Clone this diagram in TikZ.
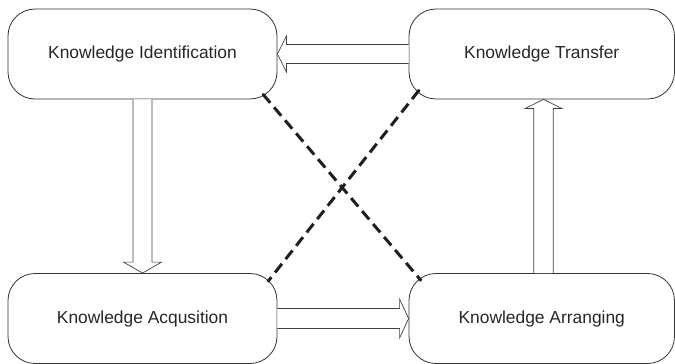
\documentclass[tikz,border=0pt]{standalone}
\usepackage{fontspec}
\setmainfont{Liberation Sans}
\usetikzlibrary{calc}
\begin{document}
\begin{tikzpicture}[x=1pt,y=-1pt,
  box/.style={draw=black!80, line width=0.8pt, rounded corners=27pt, minimum height=90pt, inner sep=0pt,
    text=black!85, font=\fontsize{17.4}{20}\selectfont},
  fatarrow/.style={draw=black!75, line width=0.7pt, fill=white},
  dashline/.style={draw=black!88, line width=3pt, dash pattern=on 11pt off 6pt}]
\useasboundingbox (0,0) rectangle (675,364);
\node[box, minimum width=269pt] (id) at (142.5,54) {Knowledge Identification};
\node[box, minimum width=265.5pt] (tr) at (541.75,54) {Knowledge Transfer};
\node[box, minimum width=269pt] (ac) at (142.5,318.5) {Knowledge Acqusition};
\node[box, minimum width=265.5pt] (ar) at (541.75,318.5) {Knowledge Arranging};
% down arrow
\draw[fatarrow] ($(id.south)+(-9.5,0)$) -- ($(ac.north)+(-9.5,-11)$) -- ($(ac.north)+(-19,-11)$) -- (ac.north)
  -- ($(ac.north)+(19,-11)$) -- ($(ac.north)+(9.5,-11)$) -- ($(id.south)+(9.5,0)$);
% left arrow
\draw[fatarrow] ($(tr.west)+(0,-9.5)$) -- ($(id.east)+(9,-9.5)$) -- ($(id.east)+(9,-18)$) -- (id.east)
  -- ($(id.east)+(9,18)$) -- ($(id.east)+(9,9.5)$) -- ($(tr.west)+(0,9.5)$);
% right arrow
\draw[fatarrow] ($(ac.east)+(0,-10)$) -- ($(ar.west)+(-9,-10)$) -- ($(ar.west)+(-9,-19.5)$) -- (ar.west)
  -- ($(ar.west)+(-9,19.5)$) -- ($(ar.west)+(-9,10)$) -- ($(ac.east)+(0,10)$);
% up arrow
\draw[fatarrow] ($(ar.north)+(-8,0)$) -- ($(tr.south)+(-8,9)$) -- ($(tr.south)+(-16.5,9)$) -- ($(tr.south)+(1.75,0)$)
  -- ($(tr.south)+(20,9)$) -- ($(tr.south)+(11.5,9)$) -- ($(ar.north)+(11.5,0)$);
% dashed links
\coordinate (d1a) at ($(id.south east)+(-14.3,-5)$);
\coordinate (d1b) at ($(ar.north west)+(12.7,7.7)$);
\coordinate (d2a) at ($(tr.south west)+(10.3,-9)$);
\coordinate (d2b) at ($(ac.north east)+(-9.7,8.7)$);
\draw[dashline] (d1a) -- (d1b);
\draw[dashline] (d2a) -- (d2b);
\fill[black!88] (d1a) circle[radius=1.4pt] (d2a) circle[radius=1.4pt];
\end{tikzpicture}
\end{document}
